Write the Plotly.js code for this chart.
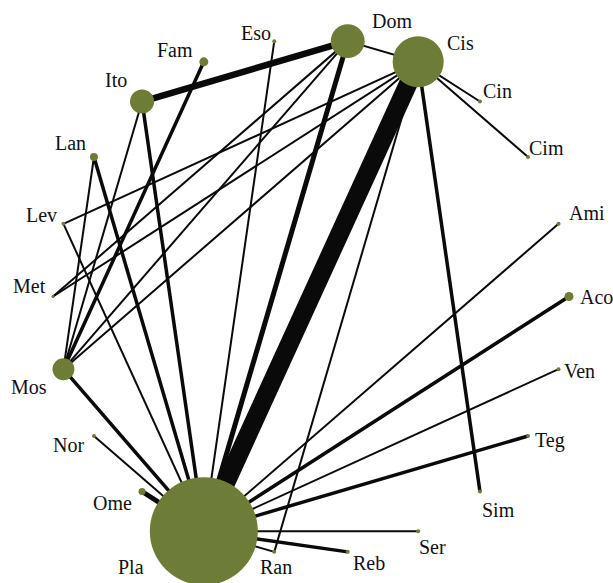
<!DOCTYPE html>
<html>
<head>
<meta charset="utf-8">
<script src="https://cdn.plot.ly/plotly-3.0.1.min.js"></script>
<style>html,body{margin:0;padding:0;background:#fff;}#chart{width:613px;height:583px;}</style>
</head>
<body>
<div id="chart"></div>
<script>
// ---- data ----
const treatments = ['Aco','Ami','Cim','Cin','Cis','Dom','Eso','Fam','Ito','Lan','Lev',
                    'Met','Mos','Nor','Ome','Pla','Ran','Reb','Ser','Sim','Teg','Ven'];
const patients   = [80, 16, 16, 16, 2600, 1150, 16, 80, 580, 64, 16,
                    9, 480, 16, 50, 11664, 16, 16, 16, 16, 16, 16];

const edgeFrom    = ['Cis','Dom','Dom','Ito','Lan','Mos','Fam','Cis','Aco','Teg','Reb','Ome',
                     'Ito','Lan','Lev','Lev','Met','Met','Mos','Mos','Eso','Dom','Cis','Cis',
                     'Cis','Ran','Ami','Ven','Ser','Nor'];
const edgeTo      = ['Pla','Ito','Pla','Pla','Pla','Pla','Mos','Sim','Pla','Pla','Pla','Pla',
                     'Mos','Mos','Cis','Pla','Cis','Dom','Dom','Cis','Pla','Cis','Cin','Cim',
                     'Ran','Pla','Pla','Pla','Pla','Pla'];
const edgeStudies = [12, 4, 3, 2, 2, 2, 2, 2, 2, 2, 2, 3,
                     1, 1, 1, 1, 1, 1, 1, 1, 1, 1, 1, 1,
                     1, 1, 1, 1, 1, 1];

// ---- layout / style config ----
const W = 613, H = 583, CX = 311, CY = 296.5, R = 258;
const nodeColor = '#6d7c37';
const baseWidth = 0.5, widthPerStudy = 1.5;
// label offsets in screen px [dx, dy(down)] from node centre
const labelOffset = {
  Aco:[27,0], Ami:[28,-11], Cim:[18.5,-9], Cin:[18,-10.5], Cis:[42,-19], Dom:[44,-20],
  Eso:[-18,-8], Fam:[-29,-12], Ito:[-26,-21.5], Lan:[-23,-14], Lev:[-21.5,-9],
  Met:[-24,-10.5], Mos:[-34,18], Nor:[-25,9], Ome:[-30,11.5], Pla:[-73,36],
  Ran:[2,15], Reb:[21,11], Ser:[14,16], Sim:[19,18.5], Teg:[22,5], Ven:[20.5,2]
};

// circular layout: nodes evenly spaced, counter-clockwise from the right
const n = treatments.length;
const pos = {};
treatments.forEach((t, i) => {
  const a = i * 2 * Math.PI / n;
  pos[t] = [Math.cos(a), Math.sin(a)];
});

const traces = [];
edgeFrom.forEach((f, k) => {
  const t = edgeTo[k];
  traces.push({
    type: 'scatter', mode: 'lines',
    x: [pos[f][0], pos[t][0]], y: [pos[f][1], pos[t][1]],
    line: {color: '#0a0a0a', width: baseWidth + edgeStudies[k] * widthPerStudy},
    hoverinfo: 'skip', showlegend: false
  });
});

traces.push({
  type: 'scatter', mode: 'markers',
  x: treatments.map(t => pos[t][0]),
  y: treatments.map(t => pos[t][1]),
  text: treatments,
  marker: {size: patients, sizemode: 'area', sizeref: 2, color: nodeColor,
           opacity: 1, line: {width: 0}},
  hoverinfo: 'text', showlegend: false
});

const annotations = treatments.map(t => ({
  x: pos[t][0], y: pos[t][1], xref: 'x', yref: 'y',
  text: t, showarrow: false,
  xanchor: 'center', yanchor: 'middle',
  xshift: labelOffset[t][0], yshift: -labelOffset[t][1],
  font: {family: 'Liberation Serif, DejaVu Serif, serif', size: 20, color: '#111111'}
}));

const layout = {
  width: W, height: H,
  margin: {l: 0, r: 0, t: 0, b: 0},
  paper_bgcolor: '#ffffff', plot_bgcolor: '#ffffff',
  xaxis: {range: [(0 - CX) / R, (W - CX) / R], visible: false, fixedrange: true},
  yaxis: {range: [(CY - H) / R, CY / R], visible: false, fixedrange: true},
  showlegend: false,
  hovermode: 'closest',
  annotations: annotations
};

Plotly.newPlot('chart', traces, layout, {displayModeBar: false, staticPlot: true});
</script>
</body>
</html>
